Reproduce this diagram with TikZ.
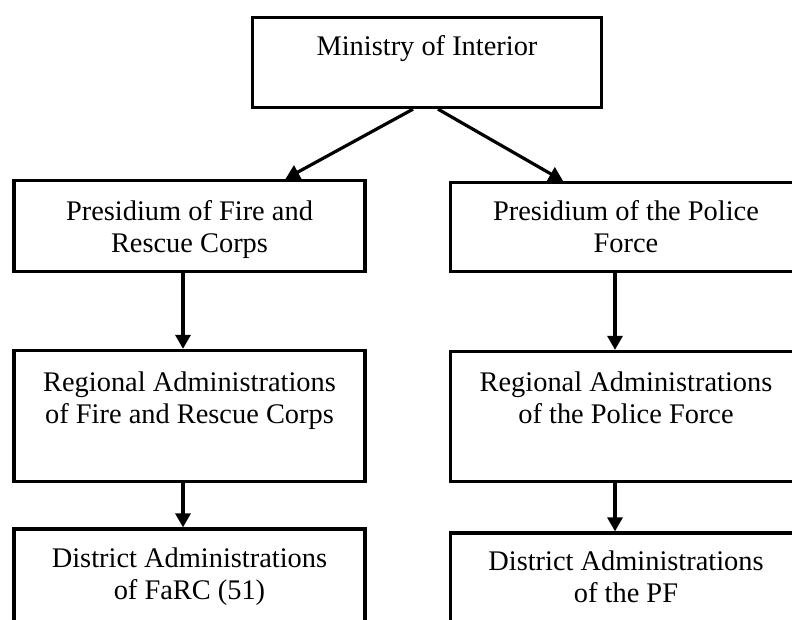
\documentclass[tikz,border=0pt]{standalone}
\usepackage{fontspec}
\setmainfont{Liberation Serif}
\usetikzlibrary{arrows.meta,calc}
\begin{document}
\begin{tikzpicture}[x=1pt,y=-1pt,
  box/.style={draw=black,line width=3.3pt,rectangle,inner sep=0pt,fill=none},
  lbl/.style={anchor=base,align=center,inner sep=0pt,font=\fontsize{28.4}{32}\selectfont},
  conn/.style={line width=3.2pt,-{Triangle[length=14pt,width=15pt]}}]
\clip (0,0) rectangle (792,619);
\fill[white] (0,0) rectangle (792,619);
% boxes
\node[box,minimum width=349pt,minimum height=90pt] (min) at (427,62.5) {};
\node[box,minimum width=351pt,minimum height=91pt] (pfr) at (189.5,226) {};
\node[box,minimum width=351pt,minimum height=131pt] (rfr) at (189.5,416) {};
\node[box,minimum width=351pt,minimum height=110pt] (dfr) at (189.5,584) {};
\node[box,minimum width=351pt,minimum height=89pt] (ppf) at (626,227) {};
\node[box,minimum width=351pt,minimum height=130pt] (rpf) at (626,416.5) {};
\node[box,minimum width=351pt,minimum height=110pt] (dpf) at (626,588) {};
% labels (base anchor = last line's baseline)
\node[lbl] (tmin) at (427,55) {Ministry of Interior};
\node[lbl] (tpfr) at (189.5,252) {Presidium of Fire and\\Rescue Corps};
\node[lbl] (trfr) at (189.5,423) {Regional Administrations\\of Fire and Rescue Corps};
\node[lbl] (tdfr) at (189.5,599) {District Administrations\\of FaRC (51)};
\node[lbl] (tppf) at (626,252) {Presidium of the Police\\Force};
\node[lbl] (trpf) at (626,423) {Regional Administrations\\of the Police Force};
\node[lbl] (tdpf) at (626,602) {District Administrations\\of the PF};
% connectors
\draw[conn] ($(min.south)+(-14,0)$) -- ($(pfr.north)+(96,0)$);
\draw[conn] ($(min.south)+(11,0)$) -- ($(ppf.north)+(-63,0)$);
\draw[conn] ($(pfr.south)+(-6.5,0)$) -- ($(rfr.north)+(-6.5,0)$);
\draw[conn] ($(rfr.south)+(-6.5,0)$) -- ($(dfr.north)+(-6.5,0)$);
\draw[conn] ($(ppf.south)+(-11,0)$) -- ($(rpf.north)+(-11,0)$);
\draw[conn] ($(rpf.south)+(-11,0)$) -- ($(dpf.north)+(-11,0)$);
\end{tikzpicture}
\end{document}
